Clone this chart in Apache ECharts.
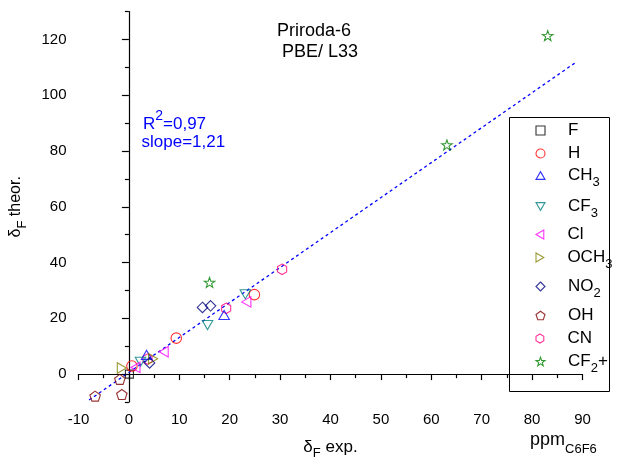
<!DOCTYPE html>
<html>
<head>
<meta charset="utf-8">
<script src="https://cdn.jsdelivr.net/npm/echarts@6/dist/echarts.min.js"></script>
<style>html,body{margin:0;padding:0;background:#fff}#c{width:619px;height:459px}</style>
</head>
<body>
<div id="c"></div>
<script>
// ---- data (x = δF exp., y = δF theor.) ----
const seriesNames = ['F', 'H', 'CH3', 'CF3', 'Cl', 'OCH3', 'NO2', 'OH', 'CN', 'CF2+'];
const dataF    = [[0.1, 0.0]];
const dataH    = [[0.6, 2.9], [9.4, 12.9], [24.9, 28.5]];
const dataCH3  = [[3.5, 6.9], [18.9, 21.2]];
const dataCF3  = [[2.3, 4.4], [15.6, 17.6], [23.1, 28.6]];
const dataCl   = [[1.3, 2.4], [6.9, 8.0], [23.3, 25.9]];
const dataOCH3 = [[-1.4, 2.2], [4.8, 5.5]];
const dataNO2  = [[4.1, 4.0], [14.6, 23.9], [16.2, 24.5]];
const dataOH   = [[-6.7, -7.9], [-1.8, -1.9], [-1.4, -7.3]];
const dataCN   = [[3.7, 5.4], [19.3, 23.6], [30.4, 37.6]];
const dataCF2p = [[16.0, 32.9], [63.1, 82.2], [83.1, 121.4]];
const fitLine  = [[-7.9, -9.3], [88.6, 111.7]];
const yMajorTicks = [0, 20, 40, 60, 80, 100, 120];
const yMinorTicks = [-10, 10, 30, 50, 70, 90, 110, 130];

const FF = '"Liberation Sans", Arial, sans-serif';
const sym = {
  sq: 'rect',
  circ: 'circle',
  up: 'path://M5,0L10,8.66L0,8.66Z',
  down: 'path://M0,0L10,0L5,8.66Z',
  left: 'path://M8.66,0L8.66,10L0,5Z',
  right: 'path://M0,0L0,10L8.66,5Z',
  dia: 'diamond',
  pent: 'path://M10,0L19.51,6.91L15.88,18.09L4.12,18.09L0.49,6.91Z',
  hex: 'path://M8.66,0L17.32,5L17.32,15L8.66,20L0,15L0,5Z',
  star: 'path://M10,0L12.35,6.76L19.51,6.91L13.8,11.24L15.88,18.09L10,14L4.12,18.09L6.2,11.24L0.49,6.91L7.65,6.76Z'
};
const styles = [
  {d: dataF,    s: sym.sq,    c: '#000000', z: 8},
  {d: dataH,    s: sym.circ,  c: '#ff0000', z: 10},
  {d: dataCH3,  s: sym.up,    c: '#0000ff', z: 11},
  {d: dataCF3,  s: sym.down,  c: '#008080', z: 11},
  {d: dataCl,   s: sym.left,  c: '#ff00ff', z: 11},
  {d: dataOCH3, s: sym.right, c: '#808000', z: 11},
  {d: dataNO2,  s: sym.dia,   c: '#000080', z: 11},
  {d: dataOH,   s: sym.pent,  c: '#800000', z: 10},
  {d: dataCN,   s: sym.hex,   c: '#ff0080', z: 10},
  {d: dataCF2p, s: sym.star,  c: '#008000', z: 10}
];
const legendCenters = [137, 160, 182, 213, 241, 264, 293, 322, 345, 368];
const legendLabels = {
  'F': '{g| }{t|F}', 'H': '{g| }{t|H}', 'CH3': '{g| }{t|CH}{s|3}', 'CF3': '{g| }{t|CF}{s|3}',
  'Cl': '{g| }{t|Cl}', 'OCH3': '{g| }{t|OCH}{s|3}', 'NO2': '{g| }{t|NO}{s|2}', 'OH': '{g| }{t|OH}',
  'CN': '{g| }{t|CN}', 'CF2+': '{g| }{t|CF}{s|2}{t|+}'
};

const series = seriesNames.map((n, i) => ({
  name: n, type: 'scatter', data: styles[i].d, symbol: styles[i].s,
  symbolSize: styles[i].s === 'rect' ? 8 : 10.5, symbolKeepAspect: true,
  itemStyle: {color: 'none', borderColor: styles[i].c, borderWidth: 1.1},
  emphasis: {disabled: true}, z: styles[i].z, xAxisIndex: 0, yAxisIndex: 0
}));
series.push({
  type: 'line', data: fitLine, symbol: 'none', silent: true, z: 5,
  lineStyle: {color: '#0000ff', width: 1.3, type: [3, 3]}, xAxisIndex: 0, yAxisIndex: 0
});

const legends = seriesNames.map((n, i) => ({
  orient: 'vertical', left: 533.5, top: legendCenters[i] - 15, padding: 0,
  itemWidth: 9, itemHeight: 9, selectedMode: false,
  data: [{name: n, icon: styles[i].s, itemStyle: {color: 'none', borderColor: styles[i].c, borderWidth: 1.1}}],
  formatter: () => legendLabels[n],
  textStyle: {
    rich: {
      g: {width: 18, lineHeight: 30, fontSize: 16},
      t: {fontSize: 17, fontFamily: FF, color: '#000'},
      s: {fontSize: 13, fontFamily: FF, color: '#000', padding: [14, 0, 0, 0]}
    }
  }
}));

const gridBox = {left: 78.5, right: 36.5, top: 11.6, bottom: 57, containLabel: false, outerBoundsMode: 'none'};
const axLine = {lineStyle: {color: '#000', width: 1.2}};
const option = {
  animation: false,
  grid: [Object.assign({}, gridBox), Object.assign({}, gridBox)],
  legend: legends,
  xAxis: [
    {type: 'value', gridIndex: 0, min: -10, max: 90, interval: 10,
     axisLine: axLine, axisTick: {length: 6, lineStyle: {color: '#000', width: 1.2}},
     minorTick: {show: true, splitNumber: 2, length: 4, lineStyle: {color: '#000', width: 1.2}},
     splitLine: {show: false},
     axisLabel: {color: '#000', fontSize: 15, fontFamily: FF, margin: 10},
     name: '{a|δ}{s|F}{a| exp.}', nameLocation: 'middle', nameGap: 33,
     nameTextStyle: {rich: {
       a: {fontSize: 17, fontFamily: FF, color: '#000'},
       s: {fontSize: 13, fontFamily: FF, color: '#000', padding: [12, 0, 0, 0]}
     }}},
    {type: 'value', gridIndex: 1, min: -10, max: 90, show: false}
  ],
  yAxis: [
    {type: 'value', gridIndex: 0, min: -10, max: 130,
     axisLine: axLine,
     axisTick: {customValues: yMajorTicks, length: 7, lineStyle: {color: '#000', width: 1.2}},
     axisLabel: {customValues: yMajorTicks, color: '#000', fontSize: 15, fontFamily: FF, margin: 12},
     splitLine: {show: false},
     name: '{a|δ}{s|F}{a| theor.}', nameLocation: 'middle', nameGap: 50, nameRotate: 90,
     nameTextStyle: {rich: {
       a: {fontSize: 16, fontFamily: FF, color: '#000'},
       s: {fontSize: 13, fontFamily: FF, color: '#000', padding: [12, 0, 0, 0]}
     }}},
    {type: 'value', gridIndex: 1, min: -10, max: 130,
     axisLine: {show: false},
     axisTick: {customValues: yMinorTicks, length: 4, lineStyle: {color: '#000', width: 1.2}},
     axisLabel: {show: false}, splitLine: {show: false}}
  ],
  graphic: [
    {type: 'rect', shape: {x: 509.5, y: 117.5, width: 100, height: 274}, z: 1,
     style: {fill: 'none', stroke: '#000', lineWidth: 1}},
    {type: 'text', x: 277, y: 21, style: {text: 'Priroda-6\n PBE/ L33', font: '18px ' + FF, fill: '#000', lineHeight: 21}},
    {type: 'text', x: 143, y: 124, style: {text: '{r|R}{p|2}{r|=0,97}', verticalAlign: 'middle', fill: '#0000ff',
      rich: {r: {fontSize: 17, fontFamily: FF, fill: '#0000ff'}, p: {fontSize: 14, fontFamily: FF, fill: '#0000ff', padding: [0, 0, 15, 0]}}}},
    {type: 'text', x: 141.5, y: 142, style: {text: 'slope=1,21', verticalAlign: 'middle', font: '17px ' + FF, fill: '#0000ff'}},
    {type: 'text', x: 530, y: 440, style: {text: '{a|ppm}{s|C6F6}', verticalAlign: 'middle',
      rich: {a: {fontSize: 18, fontFamily: FF, fill: '#000'}, s: {fontSize: 13, fontFamily: FF, fill: '#000', padding: [18, 0, 0, 0]}}}}
  ],
  series: series
};
const chart = echarts.init(document.getElementById('c'), null, {renderer: 'canvas'});
chart.setOption(option);
</script>
</body>
</html>
